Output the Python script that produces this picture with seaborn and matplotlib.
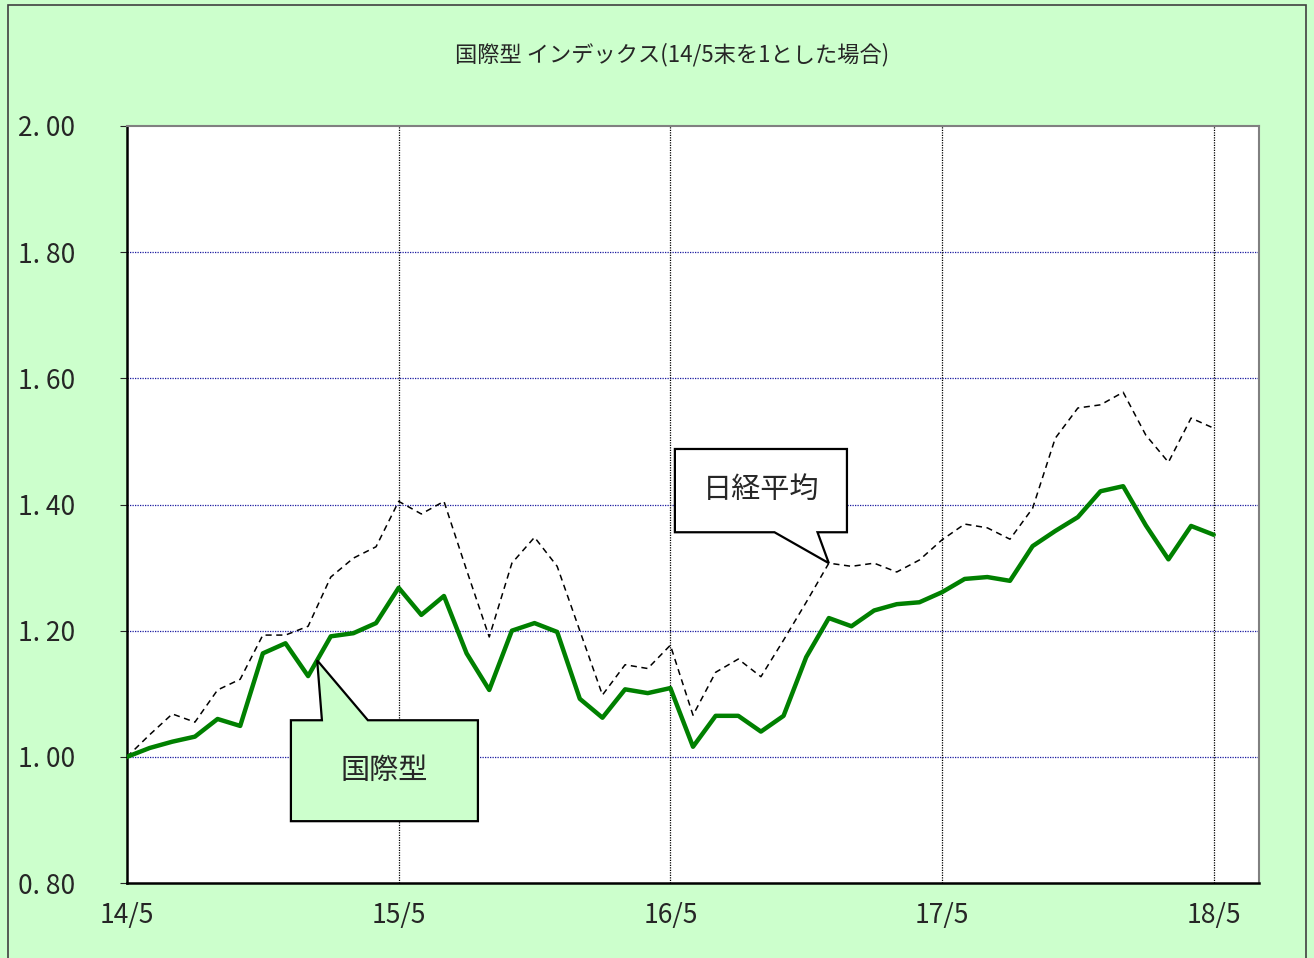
import numpy as np
import pandas as pd
import matplotlib
matplotlib.use("Agg")
import matplotlib.pyplot as plt
from matplotlib.patches import Polygon, Rectangle
import seaborn as sns


# DATA (monthly, 14/5 = 1)

TITLE = "国際型 インデックス(14/5末を1とした場合)"

kokusai = [
    1.000, 1.014, 1.024, 1.032, 1.060, 1.049, 1.164, 1.180, 1.128, 1.191,
    1.196, 1.212, 1.268, 1.225, 1.255, 1.164, 1.106, 1.200, 1.212, 1.198,
    1.092, 1.062, 1.107, 1.101, 1.109, 1.016, 1.065, 1.065, 1.040, 1.065,
    1.158, 1.220, 1.207, 1.232, 1.242, 1.245, 1.261, 1.282, 1.285, 1.279,
    1.334, 1.358, 1.380, 1.421, 1.429, 1.367, 1.313, 1.366, 1.352,
]

nikkei = [
    1.000, 1.035, 1.068, 1.055, 1.106, 1.123, 1.193, 1.193, 1.207, 1.285,
    1.315, 1.333, 1.405, 1.385, 1.405, 1.296, 1.190, 1.307, 1.348, 1.302,
    1.200, 1.098, 1.146, 1.140, 1.177, 1.066, 1.134, 1.155, 1.127, 1.185,
    1.245, 1.307, 1.302, 1.307, 1.293, 1.312, 1.344, 1.369, 1.363, 1.345,
    1.394, 1.505, 1.553, 1.558, 1.578, 1.510, 1.467, 1.537, 1.521,
]

x_ticks = [0, 12, 24, 36, 48]
x_labels = ["14/5", "15/5", "16/5", "17/5", "18/5"]
y_ticks = [0.80, 1.00, 1.20, 1.40, 1.60, 1.80, 2.00]
y_labels = ["0. 80", "1. 00", "1. 20", "1. 40", "1. 60", "1. 80", "2. 00"]

df = pd.DataFrame({
    "month": np.arange(len(kokusai)),
    "国際型": kokusai,
    "日経平均": nikkei,
})


# STYLE

BG = "#CCFFCC"
sns.set_style("white")
plt.rcParams["font.family"] = ["Noto Sans CJK JP", "DejaVu Sans"]

fig = plt.figure(figsize=(13.14, 9.58), dpi=100, facecolor=BG)
ax = fig.add_axes([127 / 1314, 1 - 883 / 958, (1259 - 127) / 1314, (883 - 126) / 958])
ax.set_facecolor("white")

# grid
for y in [1.0, 1.2, 1.4, 1.6, 1.8]:
    ax.axhline(y, color="#1a1aa0", lw=0.9, ls=(0, (1, 1)), zorder=1)
for x in x_ticks[1:]:
    ax.axvline(x, color="black", lw=0.9, ls=(0, (1, 1)), zorder=1)

# lines
sns.lineplot(data=df, x="month", y="日経平均", ax=ax, color="black",
             lw=1.1, linestyle=(0, (4, 3)), zorder=3)
sns.lineplot(data=df, x="month", y="国際型", ax=ax, color="#008000",
             lw=3.2, zorder=4)

ax.set_xlim(0, 50)
ax.set_ylim(0.80, 2.00)
ax.set_xticks(x_ticks)
ax.set_xticklabels(x_labels, fontsize=19)
ax.set_yticks(y_ticks)
ax.set_yticklabels(y_labels, fontsize=19, ha="left")
# left edge of labels ~25px from figure edge -> pad in points
ax.tick_params(axis="y", which="major", pad=(127 - 25) / 1.389, length=5,
               direction="out", left=True)
ax.tick_params(axis="x", which="major", pad=14, length=0)
ax.set_xlabel("")
ax.set_ylabel("")

for side in ["left", "bottom"]:
    ax.spines[side].set_color("black")
    ax.spines[side].set_linewidth(1.8)
for side in ["top", "right"]:
    ax.spines[side].set_color("#808080")
    ax.spines[side].set_linewidth(1.5)

# callouts (data coords)
nk_box = [(24.2, 1.488), (31.8, 1.488), (31.8, 1.356), (30.5, 1.356),
          (31.0, nikkei[31]), (28.6, 1.356), (24.2, 1.356)]
ax.add_patch(Polygon(nk_box, closed=True, facecolor="white", edgecolor="black",
                     lw=1.6, zorder=6, clip_on=False))
ax.text(28.0, 1.423, "日経平均", ha="center", va="center", fontsize=21, zorder=7)

kk_box = [(7.24, 1.058), (8.61, 1.058), (8.4, 1.153), (10.64, 1.058),
          (15.5, 1.058), (15.5, 0.898), (7.24, 0.898)]
ax.add_patch(Polygon(kk_box, closed=True, facecolor=BG, edgecolor="black",
                     lw=1.6, zorder=6, clip_on=False))
ax.text(11.37, 0.978, "国際型", ha="center", va="center", fontsize=21, zorder=7)

# title and frame
fig.text(672 / 1314, 1 - 55 / 958, TITLE, ha="center", va="center", fontsize=16)
fig.add_artist(Rectangle((8 / 1314, -0.01), (1306 - 8) / 1314, 1.01 - 5 / 958,
                         transform=fig.transFigure, fill=False,
                         edgecolor="#404040", lw=1.2))

fig.savefig("out.png", dpi=100, facecolor=BG)
